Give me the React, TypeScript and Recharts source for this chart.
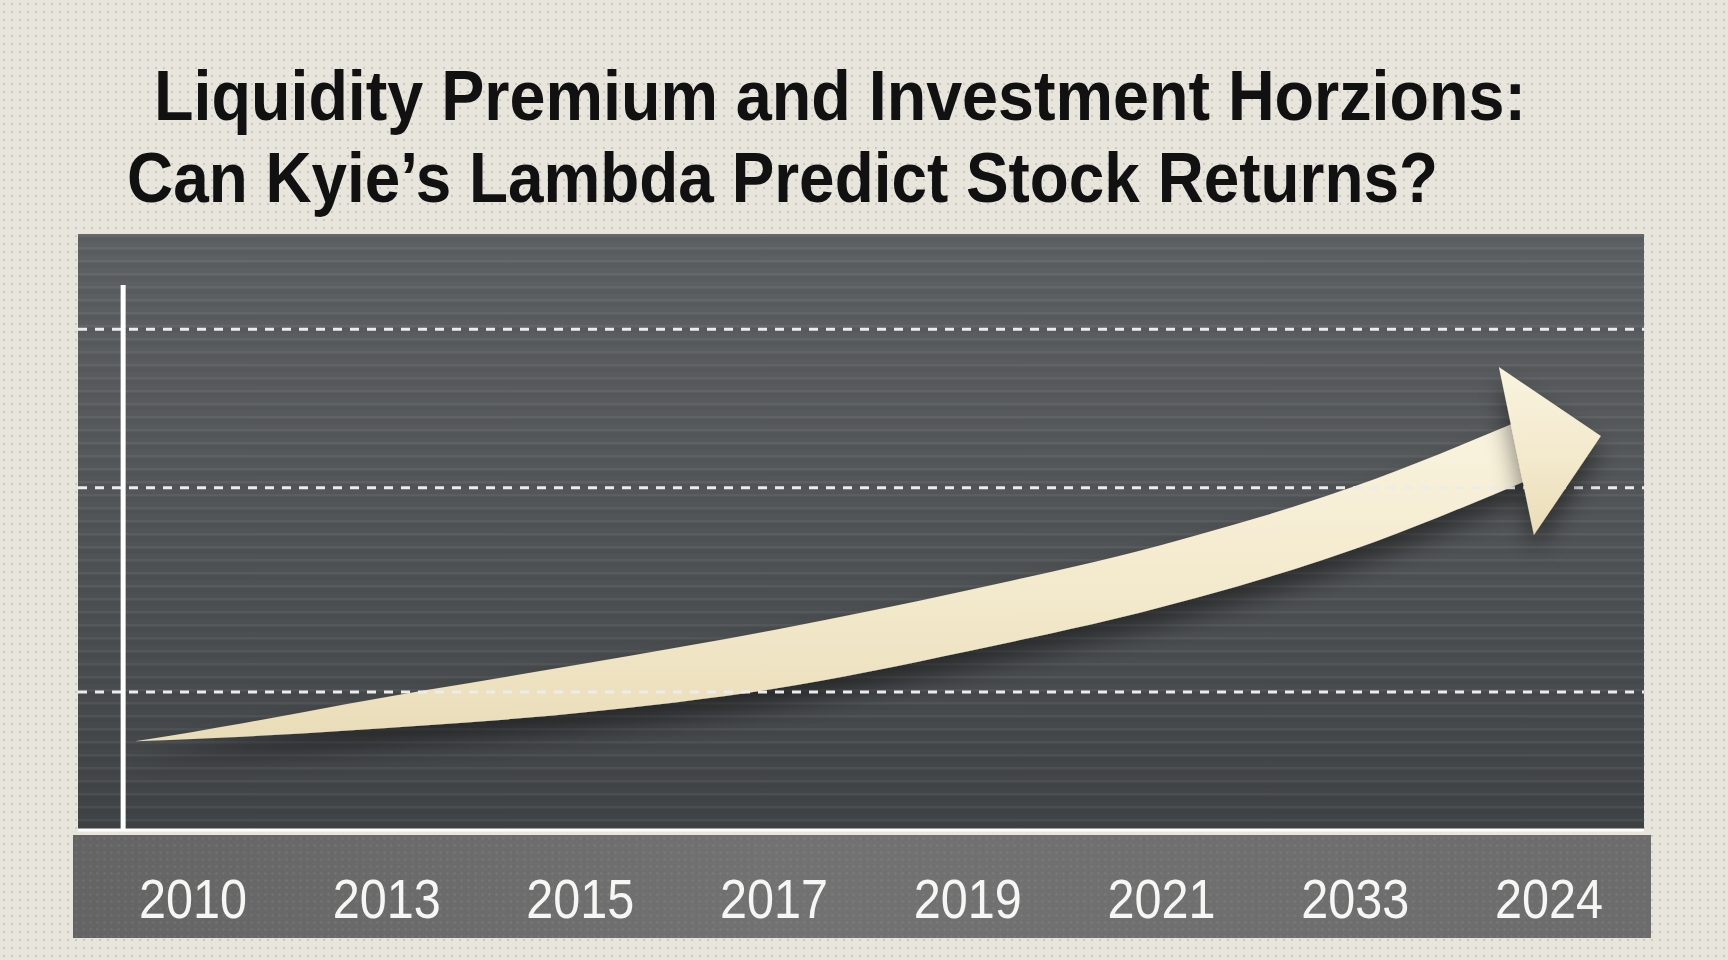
import React from 'react';
import { ComposedChart, Area, XAxis, YAxis, ReferenceLine } from 'recharts';

// tick labels as printed on the chart (order kept, including the odd 2033)
const years = ['2010', '2013', '2015', '2017', '2019', '2021', '2033', '2024'];
const yearTicks = [0, 1, 2, 3, 4, 5, 6, 7];

// arrow shaft: position along the year axis, lower and upper edge of the band
const arrowPos = [-0.3, 0, 1, 2, 3, 4, 5, 6, 6.87];
const arrowLow = [16.3, 16.7, 18.7, 21.5, 25.9, 32.8, 40.9, 51.6, 63.9];
const arrowHigh = [16.3, 18.0, 24.4, 30.4, 36.7, 44.0, 52.3, 63.1, 75.4];

// dashed guide levels
const gridLevels = [25.3, 62.8, 91.9];
const axisMark = -0.36;

const title1 = 'Liquidity Premium and Investment Horzions:';
const title2 = "Can Kyie\u2019s Lambda Predict Stock Returns?";

const data = arrowPos.map((pos, k) => ({ pos, band: [arrowLow[k], arrowHigh[k]] }));

const YearTick = (props: any) => {
  const { x, y, payload } = props;
  return (
    <text
      x={x}
      y={y + 80}
      textAnchor="middle"
      fill="#f6f6f4"
      fontSize={56}
      fontFamily="'Liberation Sans', Arial, sans-serif"
      textLength={108}
      lengthAdjust="spacingAndGlyphs"
    >
      {years[payload.value]}
    </text>
  );
};

const ArrowHead = (props: any) => {
  const { cx, cy, index } = props;
  if (index !== data.length - 1 || cx == null) return <g key={'d' + index} />;
  const pts = [
    [cx - 25, cy - 52],
    [cx + 77, cy + 17],
    [cx + 10, cy + 116],
  ];
  return (
    <polygon
      key={'d' + index}
      points={pts.map((p) => p.join(',')).join(' ')}
      fill="url(#arrowFill)"
      filter="url(#arrowShadow)"
    />
  );
};

export default function App() {
  return (
    <div
      style={{
        position: 'absolute',
        left: 0,
        top: 0,
        width: 1728,
        height: 960,
        overflow: 'hidden',
        backgroundColor: '#e8e5dc',
        backgroundImage: 'radial-gradient(rgba(140,130,110,0.28) 1px, transparent 1.6px)',
        backgroundSize: '8px 8px',
      }}
    >
      <svg width={0} height={0} style={{ position: 'absolute' }}>
        <defs>
          <linearGradient id="arrowFill" x1="0" y1="0" x2="0" y2="1">
            <stop offset="0%" stopColor="#f9f3df" />
            <stop offset="55%" stopColor="#f3e9cc" />
            <stop offset="100%" stopColor="#e9dcb8" />
          </linearGradient>
          <filter id="arrowShadow" x="-20%" y="-50%" width="140%" height="250%">
            <feDropShadow dx="0" dy="16" stdDeviation="12" floodColor="#000" floodOpacity="0.45" />
          </filter>
        </defs>
      </svg>

      <svg width={1728} height={230} style={{ position: 'absolute', left: 0, top: 0 }}>
        <text
          x={154}
          y={120}
          fontSize={70}
          fontWeight="bold"
          fill="#111"
          fontFamily="'Liberation Sans', Arial, sans-serif"
          textLength={1372}
          lengthAdjust="spacingAndGlyphs"
        >
          {title1}
        </text>
        <text
          x={127}
          y={202}
          fontSize={70}
          fontWeight="bold"
          fill="#111"
          fontFamily="'Liberation Sans', Arial, sans-serif"
          textLength={1311}
          lengthAdjust="spacingAndGlyphs"
        >
          {title2}
        </text>
      </svg>

      {/* dark plot panel */}
      <div
        style={{
          position: 'absolute',
          left: 78,
          top: 234,
          width: 1566,
          height: 596,
          backgroundImage:
            'repeating-linear-gradient(to bottom, rgba(255,255,255,0.05) 0px, rgba(255,255,255,0.05) 2px, rgba(0,0,0,0.04) 3px, rgba(0,0,0,0.04) 7px, transparent 9px, transparent 13px), linear-gradient(to bottom, #5e6163 0%, #56595b 35%, #4b4e51 70%, #404346 100%)',
        }}
      />
      {/* axis strip */}
      <div
        style={{
          position: 'absolute',
          left: 73,
          top: 835,
          width: 1578,
          height: 103,
          backgroundImage:
            'radial-gradient(rgba(255,255,255,0.06) 1px, transparent 1.6px), linear-gradient(to right, #646464 0%, #727272 45%, #6c6c6c 100%)',
          backgroundSize: '7px 7px, 100% 100%',
        }}
      />

      <div style={{ position: 'absolute', left: 0, top: 0 }}>
        <ComposedChart
          width={1728}
          height={960}
          data={data}
          margin={{ top: 285, right: 84, left: 78, bottom: 30 }}
        >
          <XAxis
            type="number"
            dataKey="pos"
            domain={[-0.593, 7.49]}
            ticks={yearTicks}
            allowDataOverflow
            height={100}
            tickLine={false}
            axisLine={{ stroke: '#ffffff', strokeWidth: 3 }}
            tick={<YearTick />}
            interval={0}
          />
          <YAxis type="number" domain={[0, 100]} hide />
          {gridLevels.map((v) => (
            <ReferenceLine key={v} y={v} stroke="#ececec" strokeWidth={3} strokeDasharray="9 8" />
          ))}
          <ReferenceLine x={axisMark} stroke="#ffffff" strokeWidth={5} />
          <Area
            type="monotone"
            dataKey="band"
            stroke="none"
            fill="url(#arrowFill)"
            fillOpacity={1}
            style={{ filter: 'url(#arrowShadow)' }}
            dot={<ArrowHead />}
            activeDot={false}
            isAnimationActive={false}
          />
        </ComposedChart>
      </div>
    </div>
  );
}
